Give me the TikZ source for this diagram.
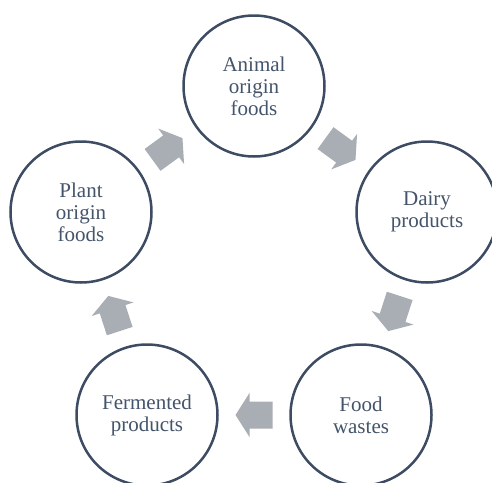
\documentclass[tikz,border=0pt]{standalone}
\usepackage{fontspec}
\setmainfont{Liberation Serif}
\usetikzlibrary{calc}
\definecolor{ringcol}{HTML}{3E4C63}
\definecolor{txtcol}{HTML}{44546A}
\definecolor{arrowgray}{HTML}{A9ADB4}
\tikzset{
  stage/.style={circle, draw=ringcol, line width=2.5pt, minimum size=141pt, inner sep=0pt,
    text=txtcol, align=center, font=\fontsize{21}{22}\selectfont},
  flowarrow/.pic={\fill[arrowgray] (-18.5,-13.5) -- (4.5,-13.5) -- (4.5,-22) -- (18.5,0)
     -- (4.5,22) -- (4.5,13.5) -- (-18.5,13.5) -- cycle;}
}
\begin{document}
\begin{tikzpicture}[x=1pt,y=-1pt]
\clip (0,0) rectangle (492,482);
\fill[white] (0,0) rectangle (492,482);
\node[stage] (animal) at (254,86) {Animal\\origin\\foods};
\node[stage] (dairy) at (427,212) {Dairy\\products};
\node[stage] (waste) at (361,415) {Food\\wastes};
\node[stage] (ferm) at (147,415) {Fermented\\products};
\node[stage] (plant) at (81,212) {Plant\\origin\\foods};
\foreach \a/\b in {animal/dairy, dairy/waste, waste/ferm, ferm/plant, plant/animal}{
  \path let \p1=($(\b)-(\a)$), \n1={atan2(\y1,\x1)} in
    ($(\a)!0.5!(\b)$) pic[rotate=\n1] {flowarrow};
}
\end{tikzpicture}
\end{document}
